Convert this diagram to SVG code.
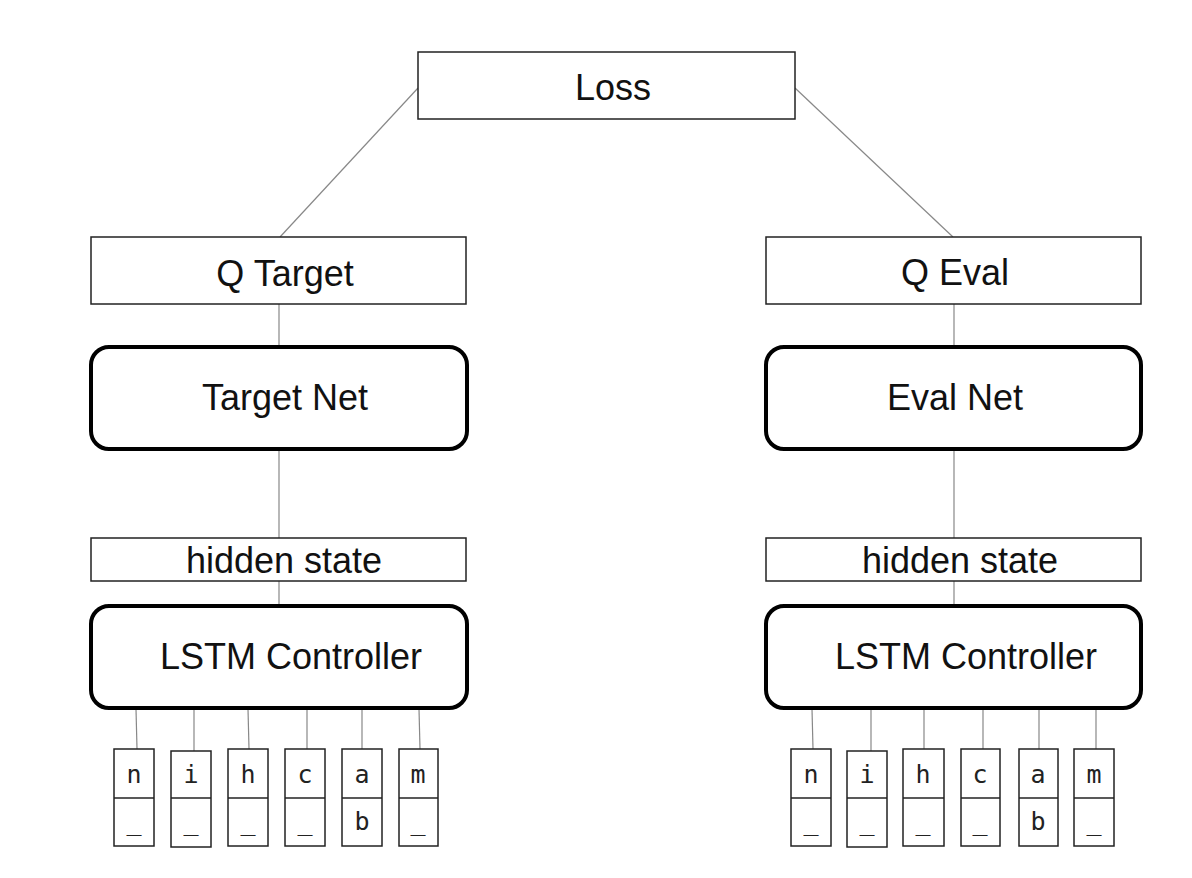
<svg xmlns="http://www.w3.org/2000/svg" width="1192" height="878" viewBox="0 0 1192 878">
<style>
.bg{fill:#fff}
.box{fill:#fff;stroke:#222;stroke-width:1.5}
.net{fill:#fff;stroke:#000;stroke-width:4}
.cell{fill:#fff;stroke:#222;stroke-width:1.5}
.div{stroke:#222;stroke-width:1.5}
.lbl{font-family:"Liberation Sans",Arial,sans-serif;font-size:36px;fill:#111;text-anchor:middle}
.mono{font-family:"DejaVu Sans Mono","Liberation Mono",monospace;font-size:25px;fill:#222;text-anchor:middle}
.conn line{stroke:#888;stroke-width:1.2}
</style>
<rect class="bg" x="0" y="0" width="1192" height="878"/>
<g id="connectors" class="conn">
<line x1="418" y1="88" x2="280" y2="237"/>
<line x1="795" y1="88" x2="953" y2="237"/>
<line x1="279" y1="304" x2="279" y2="346"/>
<line x1="279" y1="450" x2="279" y2="538"/>
<line x1="279" y1="581" x2="279" y2="605"/>
<line x1="954" y1="304" x2="954" y2="346"/>
<line x1="954" y1="450" x2="954" y2="538"/>
<line x1="954" y1="581" x2="954" y2="605"/>
<line x1="136" y1="709" x2="137" y2="749"/>
<line x1="194" y1="709" x2="194" y2="751"/>
<line x1="248" y1="709" x2="249" y2="749"/>
<line x1="307" y1="709" x2="307" y2="749"/>
<line x1="362" y1="709" x2="362" y2="749"/>
<line x1="419" y1="709" x2="420" y2="749"/>
<line x1="812" y1="709" x2="813" y2="749"/>
<line x1="871" y1="709" x2="871" y2="751"/>
<line x1="924" y1="709" x2="924" y2="749"/>
<line x1="983" y1="709" x2="983" y2="749"/>
<line x1="1039" y1="709" x2="1039" y2="749"/>
<line x1="1096" y1="709" x2="1096" y2="749"/>
</g>
<g id="loss"><rect class="box" x="418" y="52" width="377" height="67"/><text class="lbl" x="613" y="100">Loss</text></g>
<g id="q-target"><rect class="box" x="91" y="237" width="375" height="67"/><text class="lbl" x="285" y="286">Q Target</text></g>
<g id="q-eval"><rect class="box" x="766" y="237" width="375" height="67"/><text class="lbl" x="955" y="285">Q Eval</text></g>
<g id="target-net"><rect class="net" x="91" y="347" width="376" height="102" rx="18"/><text class="lbl" x="285" y="410">Target Net</text></g>
<g id="eval-net"><rect class="net" x="766" y="347" width="375" height="102" rx="18"/><text class="lbl" x="955" y="410">Eval Net</text></g>
<g id="hidden-left"><rect class="box" x="91" y="538" width="375" height="43"/><text class="lbl" x="284" y="573">hidden state</text></g>
<g id="hidden-right"><rect class="box" x="766" y="538" width="375" height="43"/><text class="lbl" x="960" y="573">hidden state</text></g>
<g id="lstm-left"><rect class="net" x="91" y="606" width="376" height="102" rx="18"/><text class="lbl" x="291" y="669">LSTM Controller</text></g>
<g id="lstm-right"><rect class="net" x="766" y="606" width="375" height="102" rx="18"/><text class="lbl" x="966" y="669">LSTM Controller</text></g>
<g id="cells-left">
<g id="l-n"><rect class="cell" x="114" y="749" width="40" height="97"/><line class="div" x1="114" y1="798" x2="154" y2="798"/><text class="mono" x="134" y="783">n</text><text class="mono" x="134" y="830">_</text></g>
<g id="l-i"><rect class="cell" x="171" y="751" width="40" height="96"/><line class="div" x1="171" y1="798" x2="211" y2="798"/><text class="mono" x="191" y="783">i</text><text class="mono" x="191" y="830">_</text></g>
<g id="l-h"><rect class="cell" x="228" y="749" width="40" height="97"/><line class="div" x1="228" y1="798" x2="268" y2="798"/><text class="mono" x="248" y="783">h</text><text class="mono" x="248" y="830">_</text></g>
<g id="l-c"><rect class="cell" x="285" y="749" width="40" height="97"/><line class="div" x1="285" y1="798" x2="325" y2="798"/><text class="mono" x="305" y="783">c</text><text class="mono" x="305" y="830">_</text></g>
<g id="l-a"><rect class="cell" x="342" y="749" width="40" height="97"/><line class="div" x1="342" y1="798" x2="382" y2="798"/><text class="mono" x="362" y="783">a</text><text class="mono" x="362" y="830">b</text></g>
<g id="l-m"><rect class="cell" x="399" y="749" width="39" height="97"/><line class="div" x1="399" y1="798" x2="438" y2="798"/><text class="mono" x="418" y="783">m</text><text class="mono" x="418" y="830">_</text></g>
</g>
<g id="cells-right">
<g id="r-n"><rect class="cell" x="791" y="749" width="40" height="97"/><line class="div" x1="791" y1="798" x2="831" y2="798"/><text class="mono" x="811" y="783">n</text><text class="mono" x="811" y="830">_</text></g>
<g id="r-i"><rect class="cell" x="847" y="751" width="40" height="96"/><line class="div" x1="847" y1="798" x2="887" y2="798"/><text class="mono" x="867" y="783">i</text><text class="mono" x="867" y="830">_</text></g>
<g id="r-h"><rect class="cell" x="903" y="749" width="41" height="97"/><line class="div" x1="903" y1="798" x2="944" y2="798"/><text class="mono" x="923" y="783">h</text><text class="mono" x="923" y="830">_</text></g>
<g id="r-c"><rect class="cell" x="961" y="749" width="39" height="97"/><line class="div" x1="961" y1="798" x2="1000" y2="798"/><text class="mono" x="980" y="783">c</text><text class="mono" x="980" y="830">_</text></g>
<g id="r-a"><rect class="cell" x="1019" y="749" width="39" height="97"/><line class="div" x1="1019" y1="798" x2="1058" y2="798"/><text class="mono" x="1038" y="783">a</text><text class="mono" x="1038" y="830">b</text></g>
<g id="r-m"><rect class="cell" x="1074" y="749" width="40" height="97"/><line class="div" x1="1074" y1="798" x2="1114" y2="798"/><text class="mono" x="1094" y="783">m</text><text class="mono" x="1094" y="830">_</text></g>
</g>
</svg>
